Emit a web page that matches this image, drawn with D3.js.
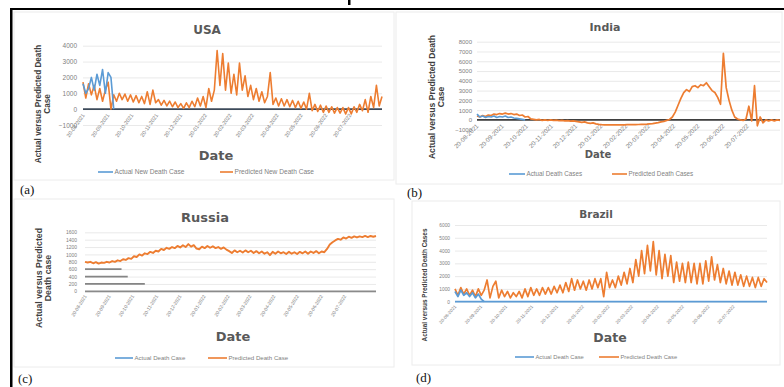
<!DOCTYPE html>
<html><head><meta charset="utf-8">
<script src="https://cdn.jsdelivr.net/npm/d3@7/dist/d3.min.js"></script>
<style>
html,body{margin:0;padding:0;background:#fff;}
svg{display:block;}
</style></head>
<body><svg id="c" width="784" height="387"></svg>
<script>
// ---------------- DATA ----------------
const startDate = "2021-08-20";          // first sample
const stepHours = 84;                    // one sample every 3.5 days (twice a week)
const tickDates = ["2021-08-20","2021-09-20","2021-10-20","2021-11-20","2021-12-20","2022-01-20",
                   "2022-02-20","2022-03-20","2022-04-20","2022-05-20","2022-06-20","2022-07-20"];
const tickLabels = ["20-08-2021","20-09-2021","20-10-2021","20-11-2021","20-12-2021","20-01-2022",
                    "20-02-2022","20-03-2022","20-04-2022","20-05-2022","20-06-2022","20-07-2022"];

const usaTicks = [-1000,0,1000,2000,3000,4000];
const usaActual = [1600,1000,1300,2000,1200,2200,1500,2500,1000,2300,2000,0];
const usaPredicted = [1700,700,1600,900,1500,600,1300,500,1200,1700,
  0,900,500,1000,600,950,500,900,450,850,
  400,800,350,1100,300,1200,400,600,250,550,
  200,500,150,450,100,350,50,400,100,500,
  150,700,200,800,100,1300,500,1200,3700,1500,
  3500,1200,2900,1000,2200,900,2900,1200,2100,800,
  1500,600,1300,500,1100,400,800,2300,300,700,
  200,650,200,600,150,550,100,500,50,450,
  0,1000,-100,300,-150,250,-200,200,-200,150,
  -250,100,-250,100,-300,100,-300,150,-200,300,
  -100,600,-200,800,100,1500,200,800];

const indiaTicks = [-1000,0,1000,2000,3000,4000,5000,6000,7000,8000];
const indiaActual = [600,300,400,250,350,300,400,250,350,300,400,250,300,200,150,100,50,0];
const indiaPredicted = [400,300,450,350,500,450,600,550,650,600,
  700,600,650,550,600,450,500,300,350,100,
  50,0,50,-50,0,-50,0,-50,-20,-80,
  -50,-100,-80,-120,-100,-150,-200,-250,-200,-300,
  -350,-300,-400,-450,-480,-500,-500,-510,-500,-500,
  -500,-500,-500,-490,-490,-480,-480,-470,-460,-450,
  -430,-400,-380,-330,-280,-200,-150,-50,50,300,
  800,1500,2200,2800,3100,2900,3400,3500,3300,3600,
  3500,3800,3400,3000,2800,2300,1600,6800,3300,2000,
  1000,300,100,0,-50,100,1400,-100,3500,-600,
  300,-300,0,-100,0,-100,0,-50];

const russiaTicks = [0,200,400,600,800,1000,1200,1400,1600];
const russiaActualLevels = [600,400,200];
const russiaActualEnds = ["2021-10-06","2021-10-14","2021-11-05"];
const russiaPredicted = [800,780,800,760,790,750,780,770,800,780,
  820,800,840,820,870,850,900,880,950,930,
  1000,970,1030,1010,1070,1040,1100,1080,1150,1120,
  1180,1150,1200,1170,1230,1190,1250,1200,1280,1210,
  1250,1160,1140,1210,1170,1230,1180,1220,1170,1200,
  1150,1190,1130,1090,1040,1110,1060,1100,1050,1110,
  1060,1100,1040,1090,1030,1080,1020,1060,980,1070,
  1020,1080,1030,1060,1010,1070,1020,1060,1010,1070,
  1030,1080,1020,1080,1040,1090,1030,1080,1060,1150,
  1270,1330,1380,1420,1400,1460,1430,1480,1450,1490,
  1460,1490,1470,1500,1470,1500,1480,1500];

const brazilTicks = [0,1000,2000,3000,4000,5000,6000];
const brazilActual = [800,400,900,500,700,400,700,300,600,200,0];
const brazilPredicted = [1000,500,1100,600,1000,500,900,400,1000,500,
  900,1700,300,1200,1600,300,900,400,800,300,
  700,400,800,300,1000,400,1100,500,1000,500,
  1100,600,1100,600,1200,700,1300,700,1500,800,
  1800,900,1700,1000,1600,900,1700,1000,1800,1100,
  1800,400,2300,1100,1700,1100,2000,1300,2300,1400,
  2600,1500,3300,2000,4000,2200,4400,2400,4700,2100,
  4000,1800,3700,2000,3600,1500,3100,1600,3000,1500,
  3100,1500,3000,1400,3000,1400,3200,1600,3500,1700,
  2900,1500,2600,1400,2400,1300,2300,1300,2100,1200,
  2000,1200,1900,1100,1900,1200,1800,1500];

// ---------------- DRAWING ----------------
const BLUE = "#5B9BD5", ORANGE = "#ED7D31";
const svg = d3.select("#c");
const parse = d3.timeParse("%Y-%m-%d");
const t0 = parse(startDate);
const dateAt = i => new Date(t0.getTime() + i * stepHours * 3600 * 1000);

// page frame
svg.append("rect").attr("x",10).attr("y",8).attr("width",774).attr("height",2).attr("fill","#000");
svg.append("rect").attr("x",10).attr("y",8).attr("width",2.5).attr("height",379).attr("fill","#000");
svg.append("rect").attr("x",348).attr("y",0).attr("width",2.5).attr("height",5).attr("fill","#000");

const panels = [
 {name:"USA", letter:"(a)", letterX:20, letterY:194, box:[14,12,380,168],
  x0:83, x1:382, yTop:45.7, yBot:125, dom:[-1000,4000], ticks:usaTicks, tickPad:6, tickFs:6.5,
  actual:usaActual, pred:usaPredicted, zeroColor:"#3c4a5a", lw:1.6,
  title:{x:207,y:34,fs:12}, date:{x:216,y:160,fs:13},
  ytitle:{lines:["Actual versus Predicted Death","Case"], xs:[41,50], cy:104, fs:8.2},
  xl:{fs:5.4, ang:55, dy:5},
  legend:{y:172, fs:6.6, b:[98,113], o:[220,233], aText:"Actual New Death Case", pText:"Predicted New Death Case"}},
 {name:"India", letter:"(b)", letterX:407, letterY:197, box:[396,12,386,172],
  x0:477, x1:780, yTop:41.7, yBot:129.7, dom:[-1000,8000], ticks:indiaTicks, tickPad:5, tickFs:6,
  actual:indiaActual, pred:indiaPredicted, zeroColor:"#404040", lw:1.7,
  title:{x:605,y:31,fs:11}, date:{x:598,y:158,fs:10},
  ytitle:{lines:["Actual versus Predicted Death","Case"], xs:[435,444], cy:97, fs:8.6},
  xl:{fs:6.2, ang:45, dy:5},
  legend:{y:174, fs:6.3, b:[509,525], o:[612,627], aText:"Actual Death Cases", pText:"Predicted Death Cases"}},
 {name:"Russia", letter:"(c)", letterX:18, letterY:383, box:[14,199,380,168],
  x0:85, x1:376, yTop:232.3, yBot:291.3, dom:[0,1600], ticks:russiaTicks, tickPad:8, tickFs:5,
  actual:null, pred:russiaPredicted, zeroColor:"#8a8a8a", lw:1.9,
  title:{x:205,y:222,fs:13}, date:{x:233,y:341,fs:13},
  ytitle:{lines:["Actual versus Predicted","Death case"], xs:[42,51], cy:278, fs:8.8},
  xl:{fs:4.8, ang:58, dy:4},
  legend:{y:358, fs:6.1, b:[115,133], o:[208,227], aText:"Actual Death Case", pText:"Predicted Death Case"}},
 {name:"Brazil", letter:"(d)", letterX:416, letterY:382, box:[412,201,368,164],
  x0:455, x1:767, yTop:225, yBot:301.7, dom:[0,6000], ticks:brazilTicks, tickPad:5, tickFs:4.8,
  actual:brazilActual, pred:brazilPredicted, zeroColor:BLUE, lw:1.7,
  title:{x:596,y:218,fs:10.5}, date:{x:610,y:342,fs:12.5},
  ytitle:{lines:["Actual versus Predicted Death Cases"], xs:[427], cy:285, fs:6.4},
  xl:{fs:4.6, ang:48, dy:4},
  legend:{y:357, fs:5.8, b:[515,534], o:[599,619], aText:"Actual Death Case", pText:"Predicted Death Case"}}
];

panels.forEach(p => {
  const g = svg.append("g");
  g.append("rect").attr("x",p.box[0]).attr("y",p.box[1]).attr("width",p.box[2]).attr("height",p.box[3])
    .attr("fill","none").attr("stroke","#ececec").attr("stroke-width",1);
  const x = d3.scaleTime().domain([t0, dateAt(p.pred.length-1)]).range([p.x0,p.x1]);
  const y = d3.scaleLinear().domain(p.dom).range([p.yBot,p.yTop]);

  const ya = g.append("g").attr("transform",`translate(${p.x0},0)`)
    .call(d3.axisLeft(y).tickValues(p.ticks).tickSize(-(p.x1-p.x0)).tickPadding(p.tickPad).tickFormat(d3.format("d")));
  ya.select(".domain").remove();
  ya.selectAll(".tick line").attr("stroke","#e3e3e3").attr("stroke-width",0.8);
  ya.selectAll(".tick text").attr("fill","#808080").attr("font-size",p.tickFs)
    .attr("font-family","Liberation Sans, Arial, sans-serif");

  const xa = g.append("g").attr("transform",`translate(0,${y(0)})`)
    .call(d3.axisBottom(x).tickValues(tickDates.map(parse)).tickSize(0)
      .tickFormat((d,i)=>tickLabels[i]));
  xa.select(".domain").remove();
  xa.selectAll(".tick text").attr("fill","#808080").attr("font-size",p.xl.fs)
    .attr("font-family","Liberation Sans, Arial, sans-serif")
    .attr("text-anchor","end").attr("y",0).attr("x",0).attr("dy","0.35em")
    .attr("transform",`translate(0,${p.xl.dy}) rotate(${-p.xl.ang})`);

  g.append("line").attr("x1",p.x0).attr("x2",p.x1).attr("y1",y(0)).attr("y2",y(0))
    .attr("stroke",p.zeroColor).attr("stroke-width",1.7);

  const line = d3.line().x((d,i)=>x(dateAt(i))).y(d=>y(d));
  if (p.name==="Russia") {
    russiaActualLevels.forEach((v,i)=>{
      g.append("line").attr("x1",x(t0)).attr("x2",x(parse(russiaActualEnds[i])))
        .attr("y1",y(v)).attr("y2",y(v)).attr("stroke","#858585").attr("stroke-width",1.8);
    });
  }
  g.append("path").datum(p.pred).attr("d",line).attr("fill","none")
    .attr("stroke",ORANGE).attr("stroke-width",p.lw).attr("stroke-linejoin","round");
  if (p.actual) {
    g.append("path").datum(p.actual).attr("d",line).attr("fill","none")
      .attr("stroke",BLUE).attr("stroke-width",p.lw).attr("stroke-linejoin","round");
  }

  g.append("text").attr("x",p.title.x).attr("y",p.title.y).attr("text-anchor","middle")
    .attr("font-family","DejaVu Sans, Verdana, sans-serif").attr("font-weight","bold")
    .attr("font-size",p.title.fs).attr("fill","#595959").text(p.name);
  g.append("text").attr("x",p.date.x).attr("y",p.date.y).attr("text-anchor","middle")
    .attr("font-family","DejaVu Sans, Verdana, sans-serif").attr("font-weight","bold")
    .attr("font-size",p.date.fs).attr("fill","#595959").text("Date");
  p.ytitle.lines.forEach((s,i)=>{
    g.append("text").attr("transform",`translate(${p.ytitle.xs[i]},${p.ytitle.cy}) rotate(-90)`)
      .attr("text-anchor","middle").attr("font-family","Liberation Sans, Arial, sans-serif")
      .attr("font-weight","bold").attr("font-size",p.ytitle.fs).attr("fill","#404040").text(s);
  });

  const L = p.legend;
  g.append("line").attr("x1",L.b[0]).attr("x2",L.b[1]).attr("y1",L.y).attr("y2",L.y).attr("stroke",BLUE).attr("stroke-width",1.6);
  g.append("text").attr("x",L.b[1]+1.5).attr("y",L.y).attr("dy","0.35em").attr("font-size",L.fs)
    .attr("font-family","Liberation Sans, Arial, sans-serif").attr("fill","#7f7f7f").text(L.aText);
  g.append("line").attr("x1",L.o[0]).attr("x2",L.o[1]).attr("y1",L.y).attr("y2",L.y).attr("stroke",ORANGE).attr("stroke-width",1.6);
  g.append("text").attr("x",L.o[1]+1.5).attr("y",L.y).attr("dy","0.35em").attr("font-size",L.fs)
    .attr("font-family","Liberation Sans, Arial, sans-serif").attr("fill","#7f7f7f").text(L.pText);

  svg.append("text").attr("x",p.letterX).attr("y",p.letterY).attr("font-family","Liberation Serif, Times New Roman, serif")
    .attr("font-size",13).attr("fill","#111").text(p.letter);
});
</script>
</body></html>
